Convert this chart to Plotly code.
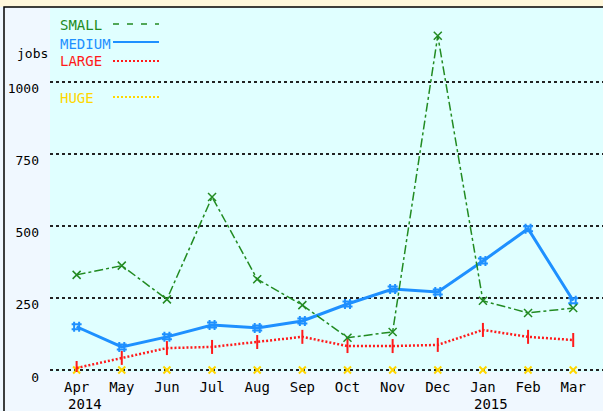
import plotly.graph_objects as go

months = ["Apr", "May", "Jun", "Jul", "Aug", "Sep", "Oct", "Nov", "Dec", "Jan", "Feb", "Mar"]
years = {"Apr": "2014", "Jan": "2015"}
small = [330, 362, 245, 600, 315, 225, 112, 132, 1160, 240, 198, 215]
medium = [150, 80, 115, 156, 146, 170, 229, 281, 271, 378, 490, 240]
large = [7, 42, 76, 80, 97, 115, 83, 83, 87, 139, 115, 104]
huge = [0, 0, 0, 0, 0, 0, 0, 0, 0, 0, 0, 0]
y_ticks = [0, 250, 500, 750, 1000]

W, H = 603, 411
L, R, T, B = 50, 0, 8, 39
PW, PH = W - L - R, H - T - B

def px(x):
    return (x - L) / PW

def py(y):
    return 1 - (y - T) / PH

GREEN = "#228b22"
BLUE = "#1e90ff"
RED = "#ff1a1a"
GOLD = "#ffd700"
FONT = "DejaVu Sans Mono"
GRID = "#222222"

fig = go.Figure()
fig.add_trace(go.Scatter(x=months, y=huge, mode="markers", cliponaxis=False,
                         marker=dict(symbol="x-thin", size=7, line=dict(color=GOLD, width=2), color=GOLD)))
fig.add_trace(go.Scatter(x=months, y=large, mode="lines+markers",
                         line=dict(color=RED, width=2.5, dash="2px,2px"),
                         marker=dict(symbol="line-ns", size=10, line=dict(color=RED, width=2), color=RED)))
fig.add_trace(go.Scatter(x=months, y=medium, mode="lines+markers",
                         line=dict(color=BLUE, width=3),
                         marker=dict(symbol="hash", size=10, line=dict(color=BLUE, width=2), color=BLUE)))
fig.add_trace(go.Scatter(x=months, y=small, mode="lines+markers",
                         line=dict(color=GREEN, width=1.5, dash="dashdot"),
                         marker=dict(symbol="x-thin", size=8, line=dict(color=GREEN, width=1.5), color=GREEN)))

shapes = [
    dict(type="rect", xref="paper", yref="paper", x0=-0.2, x1=1.1, y0=py(7), y1=py(-20),
         fillcolor="#fff8dc", line=dict(width=0), layer="above"),
    dict(type="rect", xref="paper", yref="paper", x0=px(4), x1=1.1, y0=-0.3, y1=py(7),
         fillcolor="rgba(0,0,0,0)", line=dict(color="black", width=1.5), layer="above"),
]

legend_items = [("SMALL", GREEN, "6px,8px", 1.5, 24, 25),
                ("MEDIUM", BLUE, "solid", 2, 42, 44),
                ("LARGE", RED, "2px,2px", 2, 61, 61),
                ("HUGE", GOLD, "2px,2px", 2, 97, 97.5)]
annotations = []
for name, col, dash, w, ly, ty in legend_items:
    shapes.append(dict(type="line", xref="paper", yref="paper", x0=px(113), x1=px(159),
                       y0=py(ly), y1=py(ly), line=dict(color=col, width=w, dash=dash)))
    annotations.append(dict(text=name, xref="paper", yref="paper", x=px(58), y=py(ty),
                            xanchor="left", yanchor="middle", showarrow=False,
                            font=dict(family=FONT, size=14, color=col)))

annotations.append(dict(text="jobs", xref="paper", yref="paper", x=px(32), y=py(53),
                        xanchor="center", yanchor="middle", showarrow=False,
                        font=dict(family=FONT, size=13, color="black")))
for m, yr in years.items():
    annotations.append(dict(text=yr, xref="x", yref="paper", x=m, y=py(404),
                            xanchor="left", yanchor="middle", xshift=-11, showarrow=False,
                            font=dict(family=FONT, size=14, color="black")))

fig.update_layout(
    width=W, height=H,
    margin=dict(l=L, r=R, t=T, b=B, autoexpand=False),
    paper_bgcolor="#f0f8ff", plot_bgcolor="#e0ffff",
    showlegend=False,
    shapes=shapes, annotations=annotations,
    xaxis=dict(type="category", range=[-0.59, 11.66], showgrid=False, zeroline=False,
               showline=False, ticks="", ticklabelstandoff=5,
               tickfont=dict(family=FONT, size=14, color="black")),
    yaxis=dict(range=[-7, 1256], tickvals=y_ticks, showgrid=True, gridcolor=GRID,
               gridwidth=2, griddash="3px,3px", zeroline=False, showline=False, ticks="",
               ticklabelshift=7, ticklabelstandoff=10,
               tickfont=dict(family=FONT, size=13, color="black")),
)

fig.write_html("out.html", config={"displayModeBar": False},
               post_script="document.body.style.margin='0';document.body.style.overflow='hidden';")
